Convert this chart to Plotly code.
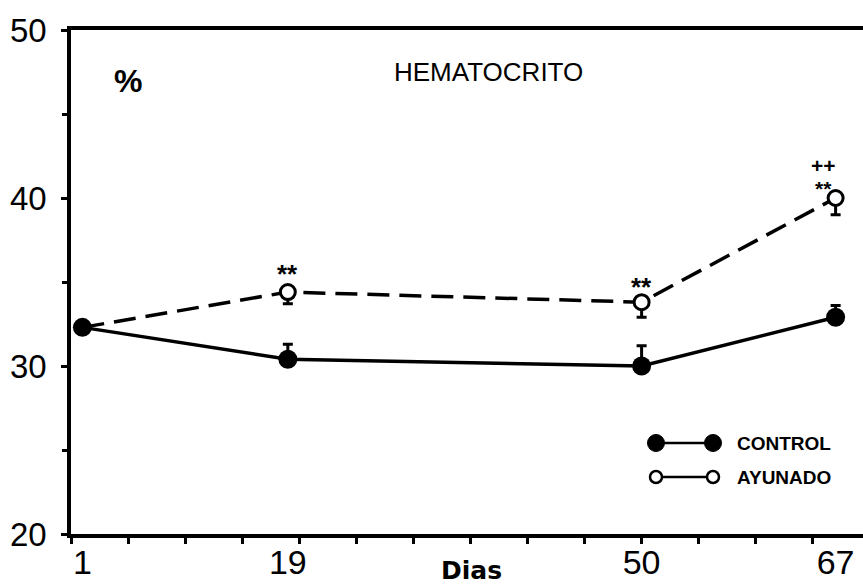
import plotly.graph_objects as go

# Hematocrit (%) by day for the two groups
dias = [1, 19, 50, 67]
control = [32.3, 30.4, 30.0, 32.9]
control_err_up = [0, 0.9, 1.2, 0.7]
ayunado = [32.3, 34.4, 33.8, 40.0]
ayunado_err_down = [0, 0.7, 0.9, 1.0]

x_ticks = [1, 19, 50, 67]
x_tick_text = ["1", "19", "50", "67"]
y_ticks = [20, 30, 40, 50]

# Significance marks above the fasted group: (day, lines, x shift px, y shift px)
sig_marks = [
    (19, ["**"], 0, 18),
    (50, ["**"], 0, 15),
    (67, ["++", "**"], -12, 21),
]

W, H = 863, 586
L, R, T, B = 71, 0, 30, 52
PW, PH = W - L - R, H - T - B

TICK_FONT = "Liberation Sans, Arial, sans-serif"

fig = go.Figure()

# Fasted group: dashed line, open circles, lower error bars
fig.add_trace(go.Scatter(
    x=dias, y=ayunado, mode="lines+markers", name="AYUNADO",
    line=dict(color="black", width=3.5, dash="22px,10px"),
    marker=dict(symbol="circle", size=15, color="white",
                line=dict(color="black", width=3),
                opacity=[0, 1, 1, 1]),
    error_y=dict(type="data", symmetric=False, array=[0] * len(dias),
                 arrayminus=ayunado_err_down, color="black",
                 thickness=3, width=5),
    showlegend=False,
))

# Control group: solid line, filled circles, upper error bars
fig.add_trace(go.Scatter(
    x=dias, y=control, mode="lines+markers", name="CONTROL",
    line=dict(color="black", width=3.5),
    marker=dict(symbol="circle", size=19, color="black"),
    error_y=dict(type="data", symmetric=False, array=control_err_up,
                 arrayminus=[0] * len(dias), color="black",
                 thickness=3, width=5),
    showlegend=False,
))

annotations = []
for d, lines, xs, ys in sig_marks:
    stacked = len(lines) > 1
    glyph = 21 if stacked else 26
    body = "<br>".join(
        f"<span style='font-size:{glyph}px'><b>{t}</b></span>" for t in lines)
    annotations.append(dict(
        x=d, y=ayunado[dias.index(d)], xref="x", yref="y",
        xanchor="center", yanchor="middle",
        text=body, showarrow=False, xshift=xs, yshift=ys,
        font=dict(family=TICK_FONT, size=18 if stacked else 26,
                  color="black"),
    ))


def px_x(p):
    return (p - L) / PW


def px_y(p):
    return (H - B - p) / PH


def paper_text(x, y, text, size, family=TICK_FONT, xanchor="center"):
    return dict(x=px_x(x), y=px_y(y), xref="paper", yref="paper",
                xanchor=xanchor, yanchor="middle", text=text,
                showarrow=False,
                font=dict(family=family, size=size, color="black"))


# Panel texts
annotations += [
    paper_text(128, 81, "<b>%</b>", 32),
    paper_text(488, 72, "HEMATOCRITO", 26),
    paper_text(471, 570, "<b>Dias</b>", 25, "DejaVu Sans, sans-serif"),
]

# Key: marker - line - marker followed by the group name
shapes = []
key_rows = [("CONTROL", 443, "black", 17, 1),
            ("AYUNADO", 477, "white", 12, 2.5)]
for label, yy, fill, size, lw in key_rows:
    yp = px_y(yy)
    shapes.append(dict(type="line", xref="paper", yref="paper",
                       x0=px_x(660), x1=px_x(708), y0=yp, y1=yp,
                       line=dict(color="black", width=2.5)))
    for cx in (656, 713):
        shapes.append(dict(type="circle", xref="paper", yref="paper",
                           xsizemode="pixel", ysizemode="pixel",
                           xanchor=px_x(cx), yanchor=yp,
                           x0=-size / 2, x1=size / 2,
                           y0=-size / 2, y1=size / 2,
                           fillcolor=fill,
                           line=dict(color="black", width=lw)))
    annotations.append(paper_text(735, yy, f"<b>{label}</b>", 19,
                                  xanchor="left"))

fig.update_layout(
    width=W, height=H,
    margin=dict(l=L, r=R, t=T, b=B, pad=0),
    paper_bgcolor="white", plot_bgcolor="white",
    annotations=annotations, shapes=shapes,
    showlegend=False,
    xaxis=dict(
        range=[0, 69.4], tickvals=x_ticks, ticktext=x_tick_text,
        ticks="", showgrid=False, zeroline=False,
        showline=True, linecolor="black", linewidth=3.5, mirror=True,
        tickfont=dict(family=TICK_FONT, size=34, color="black"),
        ticklabelstandoff=-5,
        minor=dict(tick0=0, dtick=5, ticks="outside", ticklen=6,
                   tickwidth=3, tickcolor="black", showgrid=False),
    ),
    yaxis=dict(
        range=[20, 50], tickvals=y_ticks,
        ticks="outside", ticklen=6, tickwidth=3, tickcolor="black",
        showgrid=False, zeroline=False,
        showline=True, linecolor="black", linewidth=3.5,
        tickfont=dict(family=TICK_FONT, size=33, color="black"),
        ticklabelstandoff=8,
        minor=dict(tick0=0, dtick=5, ticks="outside", ticklen=5,
                   tickwidth=3, tickcolor="black", showgrid=False),
    ),
)

fig.write_html("out.html")
